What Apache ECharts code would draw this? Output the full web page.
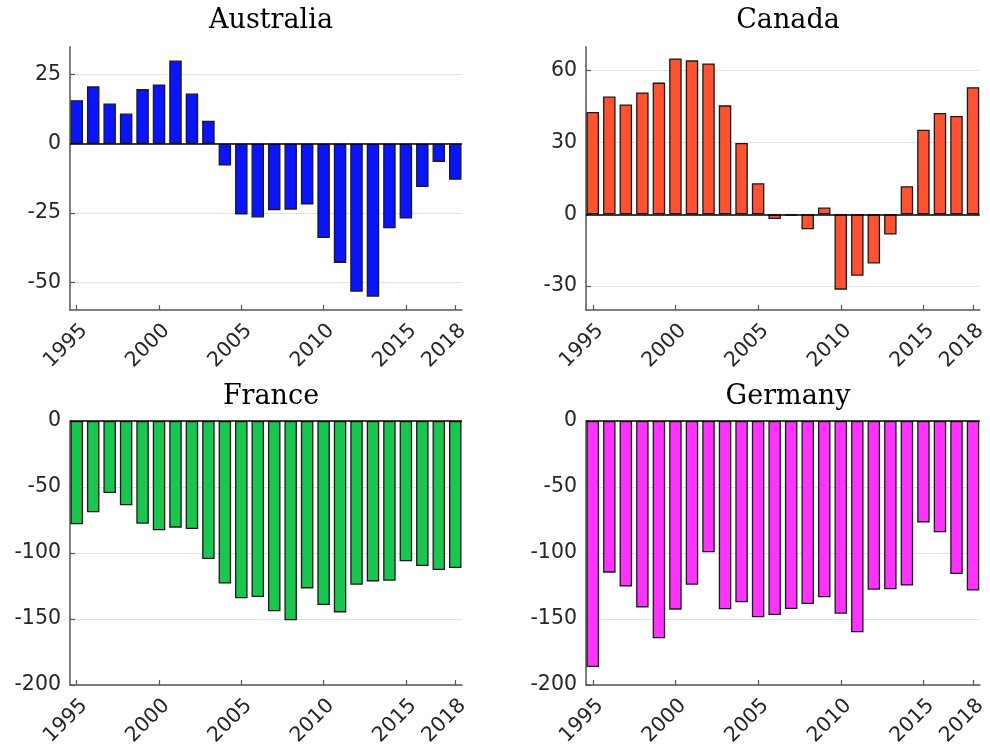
<!DOCTYPE html>
<html>
<head>
<meta charset="utf-8">
<script src="https://cdn.jsdelivr.net/npm/echarts@6/dist/echarts.min.js"></script>
<style>
html,body{margin:0;padding:0;background:#fff;}
#chart{width:990px;height:749px;}
</style>
</head>
<body>
<div id="chart"></div>
<script>
const years = [1995,1996,1997,1998,1999,2000,2001,2002,2003,2004,2005,2006,2007,2008,2009,2010,2011,2012,2013,2014,2015,2016,2017,2018];
const xTickYears = [1995,2000,2005,2010,2015,2018];

const australia = [15.7,20.7,14.5,10.9,19.7,21.4,30.0,18.1,8.3,-7.9,-25.5,-26.6,-24.0,-23.8,-21.9,-34.0,-43.0,-53.4,-55.2,-30.5,-27.0,-15.6,-6.6,-13.0];
const canada = [42.7,49.2,45.9,50.9,55.0,65.1,64.3,63.0,45.5,29.8,13.0,-2.0,-0.6,-6.3,2.8,-31.5,-25.7,-20.6,-8.5,11.7,35.3,42.3,41.1,53.1];
const france = [-78.3,-69.2,-54.5,-63.9,-77.8,-82.8,-80.8,-81.8,-104.5,-123.2,-134.3,-133.3,-144.2,-151.0,-126.8,-139.4,-145.0,-124.0,-121.5,-121.0,-106.3,-109.8,-112.9,-111.4];
const germany = [-186.4,-114.9,-125.3,-141.2,-164.6,-142.9,-124.0,-99.5,-142.7,-137.4,-148.7,-147.0,-142.4,-138.6,-133.6,-146.0,-160.1,-127.8,-127.5,-124.7,-76.8,-84.3,-115.9,-128.5];

const titles = ['Australia','Canada','France','Germany'];
const ausTicks = [-50,-25,0,25];
const canTicks = [-30,0,30,60];
const fraTicks = [-200,-150,-100,-50,0];
const gerTicks = [-200,-150,-100,-50,0];
const ausRange = [-60,35];
const canRange = [-40,70];
const fraRange = [-200,0];
const gerRange = [-200,0];

const panels = [
  {name: titles[0], values: australia, ticks: ausTicks, range: ausRange, color: '#0a14ff'},
  {name: titles[1], values: canada, ticks: canTicks, range: canRange, color: '#ff5233'},
  {name: titles[2], values: france, ticks: fraTicks, range: fraRange, color: '#19c650'},
  {name: titles[3], values: germany, ticks: gerTicks, range: gerRange, color: '#ff33ff'}
];

const gridPos = [
  {left: 70, width: 392, top: 46.7, height: 263.3},
  {left: 586, width: 394, top: 46.7, height: 263.3},
  {left: 70, width: 392, top: 421, height: 264},
  {left: 586, width: 394, top: 421, height: 264}
];

const axisColor = '#555555';
const labelFont = {fontFamily: 'DejaVu Sans', fontSize: 20.5, color: '#262626'};

const option = {
  backgroundColor: '#ffffff',
  animation: false,
  title: panels.map((p, i) => ({
    text: p.name,
    left: gridPos[i].left + gridPos[i].width / 2,
    textAlign: 'center',
    top: i < 2 ? 2 : 378,
    textStyle: {fontFamily: 'DejaVu Serif', fontWeight: 'normal', fontSize: 27, color: '#000'}
  })),
  grid: gridPos.map(g => Object.assign({containLabel: false}, g)),
  xAxis: panels.map((p, i) => ({
    type: 'value',
    gridIndex: i,
    min: 1994.59,
    max: 2018.41,
    axisLine: {show: true, onZero: false, lineStyle: {color: axisColor, width: 1.5}},
    axisTick: {show: true, inside: true, length: 5, customValues: xTickYears, lineStyle: {color: axisColor, width: 1.2}},
    axisLabel: Object.assign({
      customValues: xTickYears,
      rotate: 45,
      align: 'right',
      verticalAlign: 'top',
      margin: 10,
      formatter: v => String(v)
    }, labelFont),
    splitLine: {show: false}
  })),
  yAxis: panels.map((p, i) => ({
    type: 'value',
    gridIndex: i,
    min: p.range[0],
    max: p.range[1],
    axisLine: {show: true, onZero: false, lineStyle: {color: axisColor, width: 1.5}},
    axisTick: {show: true, inside: true, length: 5, customValues: p.ticks, lineStyle: {color: axisColor, width: 1.2}},
    axisLabel: Object.assign({customValues: p.ticks, margin: 9, formatter: v => String(v)}, labelFont),
    splitLine: {show: true, lineStyle: {color: '#e3e3e3', width: 1}}
  })),
  series: panels.map((p, i) => ({
    type: 'bar',
    xAxisIndex: i,
    yAxisIndex: i,
    barWidth: 12.5,
    data: years.map((y, k) => [y, p.values[k]]),
    itemStyle: {color: p.color, borderColor: '#1a1a1a', borderWidth: 1.3},
    markLine: {
      silent: true,
      symbol: 'none',
      label: {show: false},
      lineStyle: {color: '#000', type: 'solid', width: 1.5},
      data: [{yAxis: 0}]
    }
  }))
};

const chart = echarts.init(document.getElementById('chart'), null, {renderer: 'canvas'});
chart.setOption(option);
</script>
</body>
</html>
